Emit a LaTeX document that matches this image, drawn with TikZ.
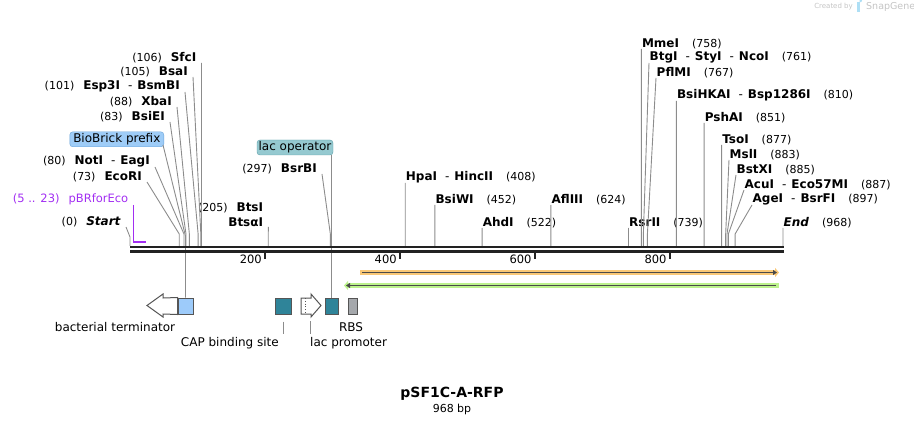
\documentclass[tikz,border=0pt]{standalone}
\usepackage{fontspec}
\setmainfont{DejaVu Sans}
\usetikzlibrary{arrows.meta}

\definecolor{cutgray}{HTML}{8C8C8C}
\definecolor{bbcol}{HTML}{222222}
\definecolor{pbrpurple}{HTML}{A22EF2}
\definecolor{bioblue}{HTML}{9ECCF7}
\definecolor{bioedge}{HTML}{6AA3D8}
\definecolor{lacfill}{HTML}{95C9D0}
\definecolor{lacedge}{HTML}{5C9CA6}
\definecolor{tealbox}{HTML}{2F8499}
\definecolor{termblue}{HTML}{9DCBFA}
\definecolor{rbsgray}{HTML}{A5A8AC}
\definecolor{orfband}{HTML}{F9C877}
\definecolor{greenband}{HTML}{BCF28C}
\definecolor{darkline}{HTML}{4A4A4A}
\definecolor{featedge}{HTML}{555555}
\definecolor{sgray}{HTML}{C4C4C4}
\definecolor{logoblue}{HTML}{AEDFF5}

\newcommand{\nsz}{\fontsize{11}{13}\selectfont}
\newcommand{\dsh}{\hspace{8pt}\textmd{-}\hspace{5pt}}
\newcommand{\lnum}[2]{{\nsz(#1)}\hspace{9pt}\textbf{#2}}
\newcommand{\rnum}[2]{\textbf{#1}\hspace{13pt}{\nsz(#2)}}

\begin{document}
\begin{tikzpicture}[x=1pt,y=-1pt,
    every node/.style={font=\fontsize{12}{13}\selectfont},
    lab/.style={anchor=south east, inner xsep=5pt, inner ysep=0pt},
    rab/.style={anchor=south west, inner xsep=0.5pt, inner ysep=0pt},
    cutln/.style={cutgray, line width=0.9pt},
    feat/.style={draw=featedge, line width=1pt, minimum height=16pt, inner sep=0pt}]
\useasboundingbox (0,0) rectangle (914,425);

\foreach \b in {0,73,80,83,88,101,105,106,205,297,408,452,522,624,739,758,761,767,810,851,877,883,885,887,897,968}
  \coordinate (k\b) at ({130+\b*0.674587},246);
\coordinate (kbb) at (185.5,246);

% enzymes left of their sites
\node[lab] (st) at (126,227) {\lnum{0}{\textit{Start}}};
\node[lab, text=pbrpurple, font=\fontsize{11.5}{13}\selectfont] (pbr) at (133.4,205) {(5 .. 23)\hspace{9pt}pBRforEco};
\node[lab] (eco) at (147,182) {\lnum{73}{EcoRI}};
\node[lab] (noti) at (155,167) {\lnum{80}{NotI\dsh EagI}};
\node[lab] (bsie) at (170,122) {\lnum{83}{BsiEI}};
\node[lab] (xba) at (177,107) {\lnum{88}{XbaI}};
\node[lab] (esp) at (185,92) {\lnum{101}{Esp3I\dsh BsmBI}};
\node[lab] (bsa) at (193,77) {\lnum{105}{BsaI}};
\node[lab] (sfc) at (201.5,63) {\lnum{106}{SfcI}};
\node[lab, align=right, font=\fontsize{12}{15}\selectfont] (bts) at (268.3,227) {\lnum{205}{BtsI}\\\textbf{BtsαI}};
\node[lab] (bsr) at (322,174) {\lnum{297}{BsrBI}};

% enzymes right of their sites
\node[rab] (hpa) at (405.2,183) {\rnum{HpaI\dsh HincII}{408}};
\node[rab] (bsiw) at (434.9,205) {\rnum{BsiWI}{452}};
\node[rab] (ahd) at (482.1,228) {\rnum{AhdI}{522}};
\node[rab] (afl) at (550.9,205) {\rnum{AflIII}{624}};
\node[rab] (rsr) at (628.5,228) {\rnum{RsrII}{739}};
\node[rab] (mme) at (641.3,49) {\rnum{MmeI}{758}};
\node[rab] (btg) at (649,63) {\rnum{BtgI\dsh StyI\dsh NcoI}{761}};
\node[rab] (pfl) at (656,78) {\rnum{PflMI}{767}};
\node[rab] (bsih) at (676.4,101) {\rnum{BsiHKAI\dsh Bsp1286I}{810}};
\node[rab] (psh) at (704.1,123) {\rnum{PshAI}{851}};
\node[rab] (tso) at (721.6,145) {\rnum{TsoI}{877}};
\node[rab] (msl) at (729,160) {\rnum{MslI}{883}};
\node[rab] (bstx) at (736,175) {\rnum{BstXI}{885}};
\node[rab] (acu) at (744,190) {\rnum{AcuI\dsh Eco57MI}{887}};
\node[rab] (age) at (752,205) {\rnum{AgeI\dsh BsrFI}{897}};
\node[rab] (fin) at (783,228) {\rnum{\textit{End}}{968}};

\draw[cutln] (st.south east) -- ([yshift=9pt]k0) -- (k0);
\foreach \n/\b in {eco/73,noti/80,bsie/83,xba/88,esp/101,bsa/105,bsr/297}
  \draw[cutln] (\n.south east) -- ([yshift=12pt]k\b) -- (k\b);
\foreach \n/\b in {sfc/106,bts/205}
  \draw[cutln] (\n.south east) -- (k\b);
\foreach \n/\b in {hpa/408,bsiw/452,ahd/522,afl/624,rsr/739,mme/758,bsih/810,psh/851,tso/877,fin/968}
  \draw[cutln] (\n.south west) -- (k\b);
\foreach \n/\b in {btg/761,pfl/767,msl/883,bstx/885,acu/887,age/897}
  \draw[cutln] (\n.south west) -- ([yshift=12pt]k\b) -- (k\b);

% feature labels on top
\node[draw=bioedge, fill=bioblue, rounded corners=3pt, minimum height=15pt, minimum width=94pt, inner xsep=2pt, inner ysep=0pt, anchor=south east] (bbp) at (164,147) {BioBrick prefix};
\node[draw=lacedge, fill=lacfill, rounded corners=3pt, minimum height=15pt, minimum width=76pt, inner xsep=1pt, inner ysep=0pt] (lacop) at (295,147.5) {lac operator};

% bottom features
\node[feat, fill=termblue, minimum width=15pt] (bbbox) at (185.5,306) {};
\node[feat, fill=tealbox, minimum width=16pt] (capbox) at (283,306) {};
\node[feat, fill=tealbox, minimum width=13pt] (lobox) at (331.5,306) {};
\node[feat, fill=rbsgray, minimum width=9pt] (rbsbox) at (352.5,306) {};
\draw[featedge, fill=white, line width=1pt] (147,305.5) -- (163,294) -- (163,298) -- (bbbox.north west) -- (bbbox.south west) -- (163,314) -- (163,317) -- cycle;
\draw[featedge, fill=white, line width=1pt] (301,298) -- (311,298) -- (311,294) -- (321,305.5) -- (311,317) -- (311,314) -- (301,314) -- cycle;
\draw[featedge, dotted, line width=0.8pt] (305,298) -- (305,314);
\coordinate (lptip) at (310,321);

\draw[cutln] ([shift={(-1pt,2pt)}]bbp.south east) -- ([yshift=10pt]kbb) -- (bbbox.north);
\draw[cutln] (lacop.south -| lobox.north) -- (lobox.north);

\draw[pbrpurple, line width=1pt] (pbr.south east) -- (133.4,243);
\draw[pbrpurple, line width=2pt] (133.4,242.5) -- (145.5,242.5);

% backbone and ruler
\draw[bbcol, line width=2.3pt] (130,247.2) -- (784,247.2);
\draw[bbcol, line width=2.3pt] (130,251.5) -- (784,251.5);
\foreach \t in {200,400,600,800} {
  \draw[bbcol, line width=2pt] ({130+\t*0.674587},252) -- ({130+\t*0.674587},259);
  \node[anchor=east, inner sep=1pt, font=\fontsize{11.5}{13}\selectfont] (tk\t) at ({128+\t*0.674587},259) {\t};
}

% ORFs
\draw[orfband, line width=5.5pt, -{Triangle[length=4pt,width=9pt]}] (360,272.5) -- (779,272.5);
\draw[darkline, line width=1.8pt, -{Triangle[length=4pt,width=5pt]}] (362,272.5) -- (777,272.5);
\draw[greenband, line width=5.5pt, {Triangle[length=4pt,width=9pt]}-] (344,285.5) -- (779,285.5);
\draw[darkline, line width=1.8pt, {Triangle[length=4pt,width=5pt]}-] (346,285.5) -- (776,285.5);

% feature names below
\node (btlbl) at (115,327) {bacterial terminator};
\node (rbslbl) at (351,327) {RBS};
\node[anchor=east, inner xsep=1pt] (caplbl) at (280,343) {CAP binding site};
\node[anchor=west, inner xsep=1pt] (lplbl) at (309,343) {lac promoter};
\draw[cutln] ([yshift=-7pt]capbox.south) -- (capbox.south |- caplbl.north);
\draw[cutln] (lptip) -- (lptip |- lplbl.north);

% title
\node[font=\bfseries\fontsize{14}{15}\selectfont] (ttl) at (452,394) {pSF1C-A-RFP};
\node[font=\fontsize{11}{13}\selectfont] (len) at (452,409) {968 bp};

% watermark
\node[anchor=east, inner sep=0pt, text=sgray, font=\fontsize{7}{8}\selectfont] (crt) at (853,7) {Created by};
\fill[logoblue] (857,2.5) rectangle (859.5,12);
\fill[logoblue] (859.5,2.5) arc (90:-90:2.8);
\node[anchor=west, inner sep=0pt, text=sgray, font=\fontsize{9.5}{10}\selectfont] (sgn) at (866,7) {SnapGene};
\end{tikzpicture}
\end{document}
